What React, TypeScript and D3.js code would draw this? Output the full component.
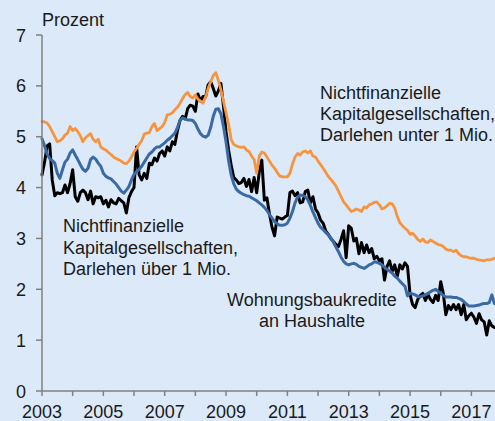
import React from "react";
import * as d3 from "d3";

const START_YEAR = 2003;
const Y_TICKS = [0, 1, 2, 3, 4, 5, 6, 7];
const X_TICK_YEARS = d3.range(2003, 2018);
const X_LABEL_YEARS = [2003, 2005, 2007, 2009, 2011, 2013, 2015, 2017];

// Monthly values from Jan 2003
const nfcUnder1Mio = [
  5.30,5.29,5.27,5.20,5.10,5.00,4.90,4.92,4.96,5.03,5.07,5.20,
  5.12,5.16,5.10,5.02,4.90,4.98,5.02,5.06,4.95,4.90,4.95,4.80,
  4.76,4.74,4.69,4.65,4.60,4.57,4.55,4.52,4.48,4.47,4.52,4.60,
  4.70,4.77,4.85,4.92,5.05,5.07,5.08,5.20,5.26,5.12,5.16,5.20,
  5.28,5.43,5.44,5.47,5.53,5.58,5.66,5.75,5.83,5.87,5.79,5.76,
  5.82,5.74,5.70,5.66,5.78,5.95,6.08,6.20,6.26,6.11,5.92,5.70,
  5.47,5.25,4.95,4.85,4.82,4.80,4.79,4.80,4.74,4.71,4.62,4.55,
  4.28,4.62,4.70,4.68,4.60,4.52,4.44,4.38,4.30,4.23,4.21,4.21,
  4.21,4.28,4.46,4.60,4.67,4.64,4.70,4.72,4.68,4.72,4.62,4.60,
  4.52,4.45,4.38,4.30,4.22,4.16,4.10,4.03,3.93,3.82,3.72,3.66,
  3.59,3.53,3.55,3.58,3.56,3.53,3.62,3.60,3.66,3.68,3.71,3.72,
  3.66,3.58,3.60,3.64,3.69,3.68,3.60,3.43,3.31,3.25,3.20,3.16,
  3.08,3.10,3.05,2.98,2.94,2.99,2.93,2.92,2.97,2.94,2.91,2.88,
  2.87,2.84,2.79,2.77,2.77,2.74,2.77,2.70,2.66,2.64,2.64,2.62,
  2.61,2.61,2.59,2.58,2.57,2.56,2.58,2.58,2.59,2.61,
];

const housingLoans = [
  4.96,4.82,4.66,4.57,4.53,4.48,4.28,4.18,4.35,4.50,4.56,4.68,
  4.74,4.64,4.55,4.45,4.36,4.32,4.38,4.55,4.60,4.56,4.48,4.42,
  4.28,4.22,4.19,4.17,4.12,4.07,4.00,3.93,3.89,3.95,4.02,4.15,
  4.26,4.31,4.36,4.42,4.50,4.58,4.66,4.70,4.76,4.80,4.80,4.84,
  4.88,4.93,4.97,5.02,5.07,5.18,5.32,5.37,5.35,5.33,5.33,5.32,
  5.26,5.15,5.06,5.01,4.99,5.03,5.18,5.40,5.54,5.55,5.45,5.20,
  4.90,4.53,4.25,4.08,3.97,3.92,3.89,3.86,3.84,3.83,3.80,3.77,
  3.74,3.70,3.66,3.61,3.55,3.47,3.40,3.33,3.29,3.26,3.26,3.27,
  3.30,3.40,3.53,3.70,3.81,3.85,3.85,3.82,3.76,3.65,3.52,3.41,
  3.30,3.22,3.17,3.12,3.07,3.01,2.93,2.83,2.74,2.63,2.55,2.50,
  2.48,2.50,2.51,2.49,2.45,2.43,2.41,2.44,2.48,2.50,2.54,2.53,
  2.51,2.48,2.43,2.39,2.36,2.32,2.26,2.22,2.16,2.11,2.06,1.87,
  1.92,1.91,1.89,1.86,1.85,1.87,1.89,1.92,1.95,1.98,2.00,1.96,
  1.92,1.88,1.85,1.85,1.85,1.84,1.84,1.82,1.80,1.76,1.71,1.67,
  1.67,1.67,1.68,1.69,1.71,1.72,1.72,1.74,1.89,1.72,
];

const nfcOver1Mio = [
  4.25,4.50,4.82,4.86,4.15,3.84,3.90,3.88,3.90,4.05,3.90,4.08,
  4.35,3.82,3.73,3.90,3.95,3.90,3.76,3.93,3.68,3.82,3.80,3.82,
  3.68,3.75,3.62,3.76,3.70,3.68,3.79,3.74,3.70,3.50,3.80,3.92,
  4.00,4.80,4.25,4.15,4.28,4.18,4.48,4.45,4.58,4.52,4.67,4.72,
  4.62,4.80,4.72,4.90,4.85,5.12,5.32,5.40,5.35,5.55,5.62,5.60,
  5.50,5.84,5.70,5.79,5.78,6.02,6.08,5.95,5.80,5.90,6.05,5.60,
  5.10,4.74,4.45,4.20,4.15,4.08,4.10,4.18,4.02,4.16,3.92,4.20,
  3.90,4.30,4.54,3.75,3.80,3.48,3.22,3.05,3.42,3.40,3.38,3.42,
  3.45,3.90,3.93,3.84,3.90,3.70,3.72,3.92,3.95,3.70,3.82,3.58,
  3.50,3.36,3.30,3.15,3.08,3.00,2.94,2.88,2.84,2.98,3.15,2.62,
  3.25,3.20,2.95,3.00,2.70,2.92,2.72,2.87,2.72,2.80,2.60,2.65,
  2.56,2.60,2.18,2.45,2.56,2.35,2.48,2.26,2.48,2.40,2.52,2.45,
  1.90,1.70,1.64,1.80,1.88,1.92,1.78,1.90,1.80,1.74,1.88,1.78,
  2.15,1.92,1.50,1.68,1.60,1.70,1.60,1.70,1.50,1.70,1.40,1.48,
  1.53,1.45,1.33,1.52,1.40,1.36,1.10,1.38,1.28,1.25,
];

const W = 495;
const H = 421;
const BG = "#dce9f8";
const AXIS = "#808080";
const TEXT = "#1a1a1a";
const FONT = "'Liberation Sans', Arial, sans-serif";

export default function App() {
  const x = d3.scaleLinear().domain([2003, 2017.75]).range([42, 494.4]);
  const y = d3.scaleLinear().domain([0, 7]).range([391, 35]);

  const line = d3
    .line<number>()
    .x((_, i) => x(START_YEAR + i / 12))
    .y((d) => y(d));

  const series = [
    { data: nfcOver1Mio, color: "#000000", width: 3 },
    { data: housingLoans, color: "#3a6aa3", width: 3 },
    { data: nfcUnder1Mio, color: "#f7953f", width: 2.8 },
  ];

  return (
    <div style={{ position: "absolute", left: 0, top: 0, width: W, height: H }}>
      <svg width={W} height={H} style={{ display: "block" }} fontFamily={FONT}>
        <rect x={0} y={0} width={W} height={H} fill={BG} />
        {series.map((s, k) => (
          <path
            key={k}
            d={line(s.data) || ""}
            fill="none"
            stroke={s.color}
            strokeWidth={s.width}
            strokeLinejoin="round"
            strokeLinecap="round"
          />
        ))}
        {/* axes */}
        <line x1={42} x2={42} y1={y(7)} y2={y(0)} stroke={AXIS} strokeWidth={1.5} />
        <line x1={42} x2={W} y1={y(0)} y2={y(0)} stroke={AXIS} strokeWidth={1.5} />
        {Y_TICKS.map((t) => (
          <g key={t}>
            <line x1={36} x2={42} y1={y(t)} y2={y(t)} stroke={AXIS} strokeWidth={1.5} />
            <text x={26} y={y(t) + 6.5} textAnchor="end" fontSize={18} fill={TEXT}>
              {t}
            </text>
          </g>
        ))}
        {X_TICK_YEARS.map((yr) => (
          <line key={yr} x1={x(yr)} x2={x(yr)} y1={y(0)} y2={y(0) + 5} stroke={AXIS} strokeWidth={1.5} />
        ))}
        {X_LABEL_YEARS.map((yr) => (
          <text key={yr} x={x(yr)} y={417.5} textAnchor="middle" fontSize={18} fill={TEXT}>
            {yr}
          </text>
        ))}
        <text x={42} y={26} fontSize={18} fill={TEXT}>Prozent</text>
        <text fontSize={18} fill={TEXT}>
          <tspan x={320} y={99}>Nichtfinanzielle</tspan>
          <tspan x={320} y={120}>Kapitalgesellschaften,</tspan>
          <tspan x={320} y={141}>Darlehen unter 1 Mio.</tspan>
        </text>
        <text fontSize={18} fill={TEXT}>
          <tspan x={63} y={232}>Nichtfinanzielle</tspan>
          <tspan x={63} y={254}>Kapitalgesellschaften,</tspan>
          <tspan x={63} y={275}>Darlehen über 1 Mio.</tspan>
        </text>
        <text fontSize={18} fill={TEXT} textAnchor="middle">
          <tspan x={312} y={306}>Wohnungsbaukredite</tspan>
          <tspan x={312} y={327}>an Haushalte</tspan>
        </text>
      </svg>
    </div>
  );
}
